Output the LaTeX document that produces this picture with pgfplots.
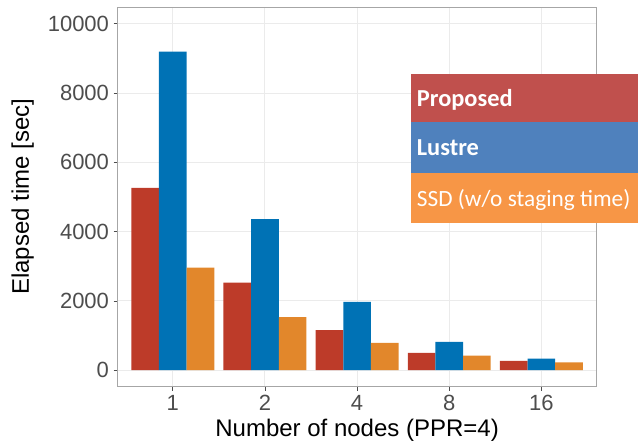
\documentclass[border=0pt]{standalone}
\usepackage{pgfplots}
\pgfplotsset{compat=1.18}
\usepackage{fontspec}
\setmainfont{Liberation Sans}
\newfontfamily\calfont{Carlito}
\usetikzlibrary{calc}
\definecolor{cred}{HTML}{BD3B29}
\definecolor{cblue}{HTML}{0072B5}
\definecolor{corange}{HTML}{E2872B}
\definecolor{lred}{HTML}{C0504D}
\definecolor{lblue}{HTML}{4F81BD}
\definecolor{lorange}{HTML}{F79646}
\definecolor{tickgray}{HTML}{4D4D4D}
\definecolor{gridgray}{HTML}{EBEBEB}
\definecolor{bordergray}{HTML}{A6A6A6}
\begin{document}
\begin{tikzpicture}
\begin{axis}[name=ax, at={(0,0)}, anchor=south west,
  scale only axis, width=479.2pt, height=379.2pt,
  xmin=0.4, xmax=5.6, ymin=-470, ymax=10476,
  ybar=0pt, bar width=0.3,
  xtick={1,2,3,4,5}, xticklabels={1,2,4,8,16},
  ytick={0,2000,4000,6000,8000,10000},
  scaled y ticks=false,
  xtick pos=bottom, ytick pos=left,
  /pgf/number format/1000 sep={},
  /pgf/number format/assume math mode=true,
  yticklabel={\pgfmathprintnumber[fixed,precision=0,1000 sep={}]{\tick}},
  grid=major, major grid style={gridgray, line width=1pt},
  axis line style={bordergray, line width=1pt},
  tick align=outside, major tick length=4pt,
  tick style={tickgray, line width=0.8pt},
  ticklabel style={font=\fontsize{22}{26}\selectfont, text=tickgray},
  yticklabel style={xshift=-1pt},
  xticklabel style={yshift=-1pt},
  xlabel={Number of nodes (PPR=4)},
  ylabel={Elapsed time [sec]},
  label style={font=\fontsize{24}{28}\selectfont},
  xlabel style={at={(axis description cs:0.5,-0.1319)}, anchor=base},
  ylabel style={at={(axis description cs:-0.1847,0.5)}, anchor=base, rotate=0},
]
\addplot[fill=cred, draw=none] coordinates {(1,5260) (2,2530) (3,1160) (4,500) (5,268)};
\addplot[fill=cblue, draw=none] coordinates {(1,9195) (2,4358) (3,1970) (4,817) (5,335)};
\addplot[fill=corange, draw=none] coordinates {(1,2960) (2,1530) (3,788) (4,422) (5,230)};
\end{axis}
% legend boxes
\fill[lred] ($(ax.north west)+(293.5pt,-66.7pt)$) rectangle ++(227pt,-48.3pt);
\fill[lblue] ($(ax.north west)+(293.5pt,-115pt)$) rectangle ++(227pt,-50.4pt);
\fill[lorange] ($(ax.north west)+(293.5pt,-165.4pt)$) rectangle ++(227pt,-50.6pt);
\node[anchor=base west, inner sep=0pt, text=white, font=\calfont\bfseries\fontsize{24.4}{28}\selectfont] at ($(ax.north west)+(299.2pt,-99.4pt)$) {Proposed};
\node[anchor=base west, inner sep=0pt, text=white, font=\calfont\bfseries\fontsize{24.4}{28}\selectfont] at ($(ax.north west)+(299.2pt,-148.4pt)$) {Lustre};
\node[anchor=base west, inner sep=0pt, text=white, font=\calfont\fontsize{23.3}{28}\selectfont] at ($(ax.north west)+(299.2pt,-199.4pt)$) {SSD (w/o staging time)};
\pgfresetboundingbox
\path[use as bounding box] ($(ax.south west)+(-117.5pt,-59.5pt)$) rectangle ($(ax.north east)+(41.3pt,7.3pt)$);
\end{tikzpicture}
\end{document}
